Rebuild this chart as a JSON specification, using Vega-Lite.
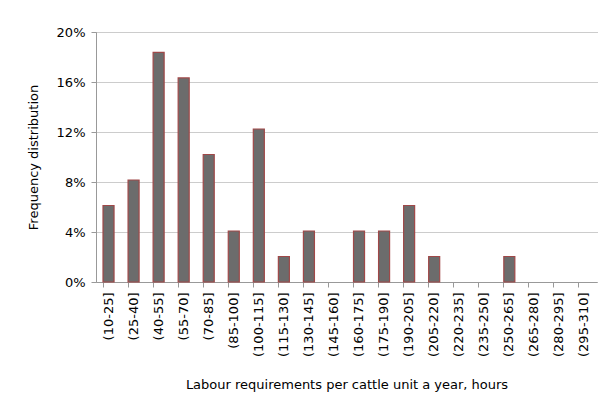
{
  "$schema": "https://vega.github.io/schema/vega-lite/v6.json",
  "autosize": "none",
  "width": 501,
  "height": 250,
  "padding": {"left": 96, "top": 32, "right": 2, "bottom": 122},
  "background": "white",
  "config": {
    "view": {"stroke": null},
    "font": "DejaVu Sans",
    "axis": {"labelFont": "DejaVu Sans", "titleFont": "DejaVu Sans"}
  },
  "data": {
    "values": [
      {"bin": "(10-25]", "freq": 0.0612},
      {"bin": "(25-40]", "freq": 0.0816},
      {"bin": "(40-55]", "freq": 0.1837},
      {"bin": "(55-70]", "freq": 0.1633},
      {"bin": "(70-85]", "freq": 0.1020},
      {"bin": "(85-100]", "freq": 0.0408},
      {"bin": "(100-115]", "freq": 0.1224},
      {"bin": "(115-130]", "freq": 0.0204},
      {"bin": "(130-145]", "freq": 0.0408},
      {"bin": "(145-160]", "freq": 0},
      {"bin": "(160-175]", "freq": 0.0408},
      {"bin": "(175-190]", "freq": 0.0408},
      {"bin": "(190-205]", "freq": 0.0612},
      {"bin": "(205-220]", "freq": 0.0204},
      {"bin": "(220-235]", "freq": 0},
      {"bin": "(235-250]", "freq": 0},
      {"bin": "(250-265]", "freq": 0.0204},
      {"bin": "(265-280]", "freq": 0},
      {"bin": "(280-295]", "freq": 0},
      {"bin": "(295-310]", "freq": 0}
    ]
  },
  "mark": {
    "type": "bar",
    "color": "#6c6c6c",
    "stroke": "#a04848",
    "strokeWidth": 1.2
  },
  "encoding": {
    "opacity": {"condition": {"test": "datum.freq == 0", "value": 0}, "value": 1},
    "x": {
      "field": "bin",
      "type": "nominal",
      "sort": null,
      "scale": {"paddingInner": 0.56, "paddingOuter": 0.28},
      "axis": {
        "title": "Labour requirements per cattle unit a year, hours",
        "titleFontSize": 13,
        "titleFontWeight": "normal",
        "titleColor": "#000",
        "titlePadding": 22,
        "labelAngle": -90,
        "labelFontSize": 13,
        "labelColor": "#000",
        "labelPadding": 5,
        "bandPosition": 0,
        "tickSize": 5,
        "tickColor": "#999",
        "domainColor": "#999",
        "grid": false
      }
    },
    "y": {
      "field": "freq",
      "type": "quantitative",
      "scale": {"domain": [0, 0.2]},
      "axis": {
        "title": "Frequency distribution",
        "titleFontSize": 13,
        "titleFontWeight": "normal",
        "titleColor": "#000",
        "titlePadding": 16,
        "format": ".0%",
        "values": [0, 0.04, 0.08, 0.12, 0.16, 0.2],
        "labelFontSize": 13,
        "labelColor": "#000",
        "labelPadding": 6,
        "tickSize": 5,
        "tickColor": "#999",
        "domainColor": "#999",
        "grid": true,
        "gridColor": "#999",
        "gridDash": [1, 1],
        "gridWidth": 1
      }
    }
  }
}
